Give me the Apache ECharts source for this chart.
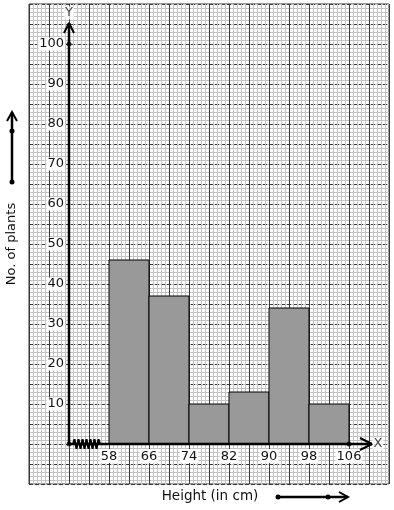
<!DOCTYPE html>
<html><head><meta charset="utf-8">
<script src="https://cdn.jsdelivr.net/npm/echarts@6/dist/echarts.min.js"></script>
<style>html,body{margin:0;padding:0;background:#fff}#c{width:394px;height:510px}</style>
</head><body><div id="c"></div>
<script>
// ---- data ----
const binStarts = [58, 66, 74, 82, 90, 98];
const binWidth = 8;
const counts = [46, 37, 10, 13, 34, 10];
const xTickLabels = [58, 66, 74, 82, 90, 98, 106];
const yTickLabels = [10, 20, 30, 40, 50, 60, 70, 80, 90, 100];

// ---- axis decorations (data coordinates) ----
const xAxisLine = [[50, 0], [110.6, 0]];
const xArrow = [[108.2, 1.5], [110.6, 0], [108.2, -1.5]];
const yAxisLine = [[50, 0], [50, 105.25]];
const yArrow = [[49, 102.75], [50, 105.25], [51, 102.75]];
const dots = [[50, 0], [50, 100], [106, 0]];
const kink = [[50.8,0],[51.1,1.2],[51.5,-1.2],[51.9,1.2],[52.3,-1.2],[52.7,1.2],[53.1,-1.2],[53.5,1.2],[53.9,-1.2],[54.3,1.2],[54.7,-1.2],[55.1,1.2],[55.5,-1.2],[55.9,1.2],[56.2,0]];

const FONT = 'DejaVu Sans';
const chart = echarts.init(document.getElementById('c'), null, {renderer: 'canvas'});

const paperAxis = (max, color, type) => ({
  type: 'value', min: 0, max: max, interval: 1,
  axisLine: {show: false, onZero: false}, axisTick: {show: false}, axisLabel: {show: false},
  splitLine: {show: true, lineStyle: {color: color, width: 1, type: type}}
});

const option = {
  animation: false,
  backgroundColor: '#fff',
  grid: {left: 29, top: 4, width: 360, height: 480, show: true, borderColor: '#333', borderWidth: 1, backgroundColor: '#fff'},
  xAxis: [
    {
      type: 'value', min: 42, max: 114, z: 3, position: 'bottom', offset: -40,
      axisLine: {show: false, onZero: false},
      axisTick: {show: false},
      splitLine: {show: false},
      axisLabel: {
        customValues: xTickLabels, margin: 5, fontSize: 13, fontFamily: FONT, color: '#111',
        backgroundColor: '#fff', padding: [1, 1, 0, 1]
      }
    },
    paperAxis(90, '#c4c4c4', 'solid'),
    paperAxis(18, '#3a3a3a', 'solid')
  ],
  yAxis: [
    {
      type: 'value', min: -10, max: 110, interval: 10, offset: -40, z: 3, position: 'left',
      axisLine: {show: false, onZero: false}, axisTick: {show: false}, splitLine: {show: false},
      axisLabel: {
        customValues: yTickLabels, margin: 4, fontSize: 13, fontFamily: FONT, color: '#111',
        backgroundColor: '#fff', padding: [0, 1]
      }
    },
    paperAxis(120, '#c4c4c4', 'solid'),
    paperAxis(24, '#3a3a3a', [4, 2])
  ],
  series: [
    {
      type: 'custom', xAxisIndex: 0, yAxisIndex: 0, z: 2,
      data: binStarts.map((s, i) => [s, s + binWidth, counts[i]]),
      encode: {x: [0, 1], y: 2},
      renderItem: function (params, api) {
        const p0 = api.coord([api.value(0), api.value(2)]);
        const p1 = api.coord([api.value(1), 0]);
        return {type: 'rect', shape: {x: p0[0], y: p0[1], width: p1[0] - p0[0], height: p1[1] - p0[1]},
          style: {fill: '#999999', stroke: '#000', lineWidth: 1}};
      }
    },
    {type: 'line', data: xAxisLine, showSymbol: false, z: 4, lineStyle: {color: '#000', width: 2.5}},
    {type: 'line', data: xArrow, showSymbol: false, z: 4, lineStyle: {color: '#000', width: 2}},
    {type: 'line', data: yAxisLine, showSymbol: false, z: 4, lineStyle: {color: '#000', width: 2.5}},
    {type: 'line', data: yArrow, showSymbol: false, z: 4, lineStyle: {color: '#000', width: 2}},
    {type: 'line', data: kink, showSymbol: false, z: 5, lineStyle: {color: '#000', width: 2}},
    {type: 'scatter', data: dots, symbolSize: 5, z: 6, itemStyle: {color: '#000'}},
    {type: 'scatter', data: [[111.8, 0]], symbolSize: 0, z: 6,
      label: {show: true, position: 'inside', formatter: 'X', fontFamily: FONT, fontSize: 13, color: '#111', backgroundColor: '#fff', padding: [0, 1]}},
    {type: 'scatter', data: [[50, 107.75]], symbolSize: 0, z: 6,
      label: {show: true, position: 'inside', formatter: 'Y', fontFamily: FONT, fontSize: 13, color: '#111', backgroundColor: '#fff', padding: [0, 1]}}
  ],
  graphic: [
    {type: 'text', x: 12, y: 244, rotation: Math.PI / 2,
      style: {text: 'No. of plants', fontFamily: FONT, fontSize: 13, fill: '#111', align: 'center', verticalAlign: 'middle'}},
    {type: 'text', x: 210, y: 496,
      style: {text: 'Height (in cm)', fontFamily: FONT, fontSize: 13.5, fill: '#111', align: 'center', verticalAlign: 'middle'}},
    {type: 'line', shape: {x1: 12, y1: 182, x2: 12, y2: 112}, style: {stroke: '#000', lineWidth: 2.5}},
    {type: 'polyline', shape: {points: [[7, 121], [12, 112], [17, 121]]}, style: {stroke: '#000', lineWidth: 2, fill: null}},
    {type: 'circle', shape: {cx: 12, cy: 131, r: 2.5}, style: {fill: '#000'}},
    {type: 'circle', shape: {cx: 12, cy: 182, r: 2.5}, style: {fill: '#000'}},
    {type: 'line', shape: {x1: 278, y1: 497, x2: 348, y2: 497}, style: {stroke: '#000', lineWidth: 2.5}},
    {type: 'polyline', shape: {points: [[339, 492], [348, 497], [339, 502]]}, style: {stroke: '#000', lineWidth: 2, fill: null}},
    {type: 'circle', shape: {cx: 278, cy: 497, r: 2.5}, style: {fill: '#000'}},
    {type: 'circle', shape: {cx: 328, cy: 497, r: 2.5}, style: {fill: '#000'}}
  ]
};
chart.setOption(option);
</script>
</body></html>
